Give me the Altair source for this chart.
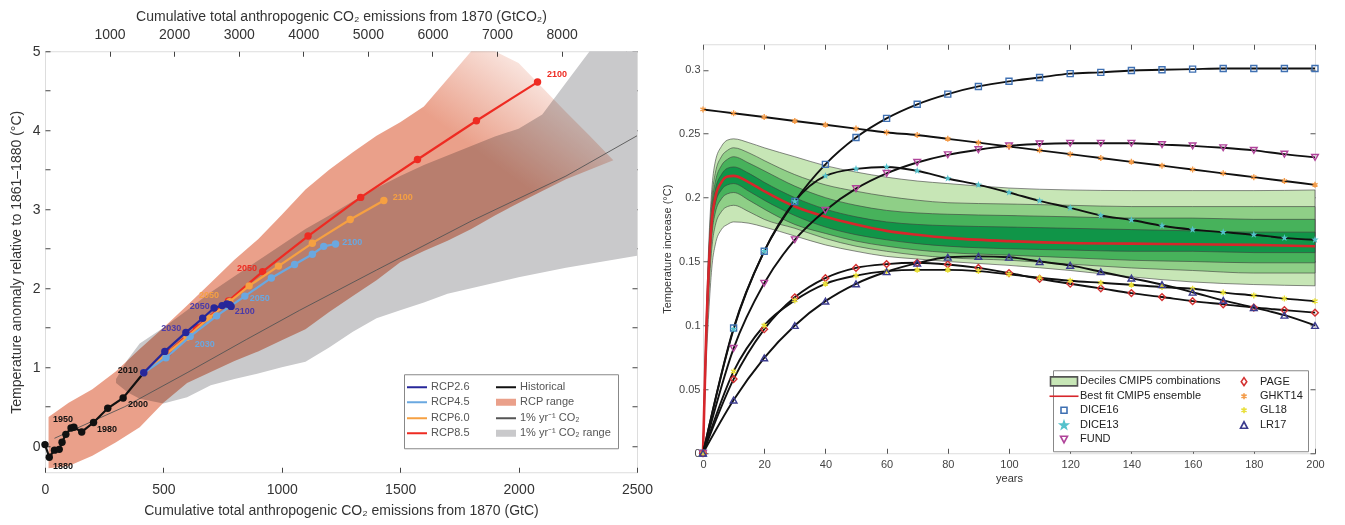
import altair as alt
import pandas as pd

FONT = "Liberation Sans"

# ------------------------------------------------------------------ left panel data
hist_gtc = [0, 18, 40, 60, 72, 88, 110, 122, 155, 205, 265, 330, 417]
hist_t = [0.02, -0.14, -0.05, -0.04, 0.05, 0.15, 0.23, 0.24, 0.18, 0.30, 0.48, 0.61, 0.93]

rcp26_gtc = [417, 506, 595, 666, 714, 748, 768, 780, 786]
rcp26_t = [0.93, 1.20, 1.44, 1.62, 1.75, 1.78, 1.80, 1.79, 1.77]
rcp45_gtc = [417, 511, 613, 725, 844, 956, 1054, 1129, 1177, 1227]
rcp45_t = [0.93, 1.12, 1.39, 1.65, 1.90, 2.13, 2.30, 2.43, 2.53, 2.56]
rcp60_gtc = [417, 505, 600, 690, 780, 862, 986, 1129, 1289, 1431]
rcp60_t = [0.93, 1.15, 1.38, 1.62, 1.83, 2.03, 2.28, 2.57, 2.87, 3.11]
rcp85_gtc = [417, 520, 640, 775, 919, 1111, 1333, 1573, 1822, 2080]
rcp85_t = [0.93, 1.19, 1.50, 1.84, 2.21, 2.66, 3.15, 3.63, 4.12, 4.61]

onepct_gtc = [40, 337, 600, 850, 1075, 1400, 1800, 2200, 2500]
onepct_t = [0.10, 0.50, 0.93, 1.35, 1.72, 2.23, 2.85, 3.42, 3.93]

rcp_range_gtc = [15, 100, 200, 300, 400, 500, 600, 700, 800, 900, 1000, 1100, 1200,
                 1300, 1400, 1500, 1600, 1700, 1800, 1900, 2000, 2100, 2200, 2300, 2400]
rcp_range_lo = [-0.28, -0.25, -0.12, 0.05, 0.24, 0.55, 0.80, 0.94, 1.08, 1.20, 1.34, 1.48, 1.70,
                1.90, 2.10, 2.33, 2.47, 2.60, 2.75, 2.92, 3.08, 3.23, 3.38, 3.50, 3.62]
rcp_range_hi = [0.37, 0.55, 0.72, 0.95, 1.23, 1.50, 1.78, 2.07, 2.36, 2.62, 2.93, 3.25, 3.50,
                3.72, 3.93, 4.10, 4.30, 4.65, 5.10, 5.20, 4.85, 4.54, 4.23, 3.93, 3.62]

co2_range_gtc = [300, 350, 400, 500, 600, 700, 800, 900, 1000, 1100, 1200, 1300, 1400,
                 1500, 1600, 1700, 1800, 1900, 2000, 2100, 2200, 2300, 2400, 2500]
co2_range_lo = [0.80, 0.68, 0.60, 0.54, 0.62, 0.77, 0.85, 0.92, 1.00, 1.07, 1.25, 1.45, 1.62,
                1.72, 1.82, 1.93, 2.00, 2.07, 2.14, 2.20, 2.26, 2.31, 2.36, 2.41]
co2_range_hi = [0.85, 1.10, 1.30, 1.50, 1.72, 1.95, 2.15, 2.35, 2.55, 2.75, 2.92, 3.10, 3.27,
                3.42, 3.56, 3.68, 3.80, 3.92, 4.02, 4.20, 4.60, 5.00, 5.30, 5.50]

ann_x = [76, 76, 262, 393, 350, 533, 654, 844, 675, 907, 1298, 693, 1511, 853, 2162]
ann_y = [-0.25, 0.34, 0.22, 0.53, 0.97, 1.49, 1.78, 1.71, 1.30, 1.88, 2.59, 1.91, 3.15, 2.26, 4.71]
ann_text = ["1880", "1950", "1980", "2000", "2010", "2030", "2050", "2100",
            "2030", "2050", "2100", "2050", "2100", "2050", "2100"]
ann_series = ["Historical"] * 5 + ["RCP2.6"] * 3 + ["RCP4.5"] * 3 + ["RCP6.0"] * 2 + ["RCP8.5"] * 2

top_ticks = [1000, 2000, 3000, 4000, 5000, 6000, 7000, 8000, 9000]
bottom_ticks = [0, 500, 1000, 1500, 2000, 2500]
left_y_ticks = [0, 0.5, 1, 1.5, 2, 2.5, 3, 3.5, 4, 4.5, 5]

C_26, C_45, C_60, C_85 = "#27279a", "#6aa8e0", "#f6a042", "#ee2b22"
C_HIST, C_SALMON, C_GRAY, C_ONE = "#111111", "#eaa08a", "#c9c9cb", "#555555"
series_color = {"Historical": C_HIST, "RCP2.6": "#4b3aa8", "RCP4.5": C_45,
                "RCP6.0": C_60, "RCP8.5": C_85}

ONE_LBL = "1% yr\u207b\u00b9 CO\u2082"
legL_items = ["RCP2.6", "RCP4.5", "RCP6.0", "RCP8.5",
              "Historical", "RCP range", ONE_LBL, ONE_LBL + " range"]
legL_stroke = [C_26, C_45, C_60, C_85, C_HIST, "transparent", C_ONE, "transparent"]
legL_fill = ["transparent"] * 5 + [C_SALMON, "transparent", C_GRAY]
LINE_P = "M-2,0H2"
RECT_P = "M-2,-0.7H2V0.7H-2Z"
legL_shape = [LINE_P, LINE_P, LINE_P, LINE_P, LINE_P, RECT_P, LINE_P, RECT_P]

# ------------------------------------------------------------------ right panel data
T_band = [0, 1, 2, 3, 4, 6, 8, 10, 15, 20, 30, 40, 50, 60, 70, 80, 100, 120, 140, 160, 180, 200]
q90 = [0, 0.100, 0.170, 0.210, 0.228, 0.240, 0.245, 0.246, 0.243, 0.239, 0.232, 0.225, 0.220,
       0.216, 0.213, 0.211, 0.2075, 0.206, 0.2055, 0.2055, 0.2055, 0.206]
q80 = [0, 0.097, 0.163, 0.202, 0.219, 0.232, 0.237, 0.239, 0.235, 0.229, 0.218, 0.210, 0.205,
       0.201, 0.198, 0.196, 0.195, 0.194, 0.193, 0.193, 0.193, 0.193]
q70 = [0, 0.094, 0.158, 0.196, 0.212, 0.225, 0.230, 0.232, 0.227, 0.221, 0.209, 0.200, 0.194,
       0.190, 0.188, 0.187, 0.186, 0.185, 0.184, 0.184, 0.183, 0.183]
q60 = [0, 0.092, 0.154, 0.190, 0.206, 0.218, 0.223, 0.224, 0.219, 0.212, 0.200, 0.191, 0.185,
       0.181, 0.179, 0.178, 0.177, 0.176, 0.175, 0.174, 0.173, 0.173]
best = [0, 0.090, 0.150, 0.185, 0.200, 0.212, 0.2165, 0.217, 0.212, 0.205, 0.193, 0.185, 0.179,
        0.174, 0.171, 0.1685, 0.166, 0.1645, 0.164, 0.1635, 0.163, 0.162]
q40 = [0, 0.087, 0.145, 0.180, 0.195, 0.206, 0.210, 0.211, 0.205, 0.198, 0.186, 0.177, 0.171,
       0.167, 0.164, 0.162, 0.160, 0.159, 0.158, 0.158, 0.157, 0.157]
q30 = [0, 0.083, 0.139, 0.173, 0.188, 0.199, 0.203, 0.204, 0.198, 0.191, 0.179, 0.172, 0.166,
       0.162, 0.159, 0.157, 0.155, 0.153, 0.151, 0.150, 0.149, 0.149]
q20 = [0, 0.077, 0.130, 0.163, 0.178, 0.189, 0.193, 0.194, 0.189, 0.183, 0.176, 0.168, 0.162,
       0.158, 0.155, 0.153, 0.151, 0.148, 0.145, 0.143, 0.141, 0.141]
q10 = [0, 0.068, 0.115, 0.148, 0.163, 0.175, 0.179, 0.181, 0.180, 0.177, 0.170, 0.163, 0.158,
       0.154, 0.152, 0.150, 0.147, 0.143, 0.138, 0.134, 0.132, 0.131]

T_model = [0, 10, 20, 30, 40, 50, 60, 70, 80, 90, 100, 110, 120, 130, 140, 150, 160, 170, 180, 190, 200]
dice16 = [0, 0.098, 0.158, 0.197, 0.226, 0.247, 0.262, 0.273, 0.281, 0.287, 0.291, 0.294, 0.297,
          0.298, 0.2995, 0.300, 0.3005, 0.301, 0.301, 0.301, 0.301]
dice13 = [0, 0.097, 0.158, 0.197, 0.217, 0.2225, 0.224, 0.221, 0.215, 0.210, 0.204, 0.1975, 0.192,
          0.186, 0.1825, 0.178, 0.175, 0.173, 0.171, 0.1685, 0.167]
fund = [0, 0.082, 0.133, 0.167, 0.190, 0.207, 0.219, 0.2275, 0.2335, 0.2375, 0.2405, 0.242, 0.2425,
        0.2425, 0.2425, 0.2415, 0.2405, 0.239, 0.237, 0.234, 0.2315]
page = [0, 0.058, 0.097, 0.122, 0.137, 0.145, 0.148, 0.149, 0.1477, 0.145, 0.141, 0.1365, 0.1326,
        0.129, 0.1253, 0.1222, 0.119, 0.1165, 0.114, 0.112, 0.110]
ghkt14 = [0.269, 0.266, 0.263, 0.260, 0.257, 0.254, 0.251, 0.249, 0.246, 0.243, 0.240, 0.237, 0.234,
          0.231, 0.228, 0.225, 0.222, 0.219, 0.216, 0.213, 0.210]
gl18 = [0, 0.064, 0.100, 0.1196, 0.1326, 0.139, 0.1425, 0.1435, 0.1435, 0.1425, 0.140, 0.1373, 0.135,
        0.1334, 0.1318, 0.130, 0.1287, 0.1257, 0.1235, 0.121, 0.119]
lr17 = [0, 0.0416, 0.0746, 0.100, 0.119, 0.1326, 0.142, 0.1487, 0.1534, 0.154, 0.1534, 0.150, 0.147,
        0.142, 0.137, 0.132, 0.126, 0.1196, 0.114, 0.108, 0.100]

x_ticks_r = [0, 20, 40, 60, 80, 100, 120, 140, 160, 180, 200]
y_ticks_r = [0, 0.05, 0.1, 0.15, 0.2, 0.25, 0.3]

STAR = ("M0,-1L0.235,-0.324L0.951,-0.309L0.38,0.124L0.588,0.809L0,0.4L-0.588,0.809"
        "L-0.38,0.124L-0.951,-0.309L-0.235,-0.324Z")
ASTER = "M0,-1V1M-0.87,-0.5L0.87,0.5M-0.87,0.5L0.87,-0.5"

C_D16, C_D13, C_FUND, C_PAGE = "#3f70b2", "#55c2cc", "#b0449a", "#d33030"
C_GHKT, C_GL18, C_LR17, C_BEST = "#f39c4a", "#e8df3a", "#3b3b8e", "#d7262b"
band_colors = ["#c7e6b6", "#8fcf87", "#47b25b", "#109548"]

models = [
    ("DICE16", dice16, "square", False, C_D16, 36),
    ("DICE13", dice13, STAR, True, C_D13, 60),
    ("FUND", fund, "triangle-down", False, C_FUND, 45),
    ("PAGE", page, "diamond", False, C_PAGE, 45),
    ("GHKT14", ghkt14, ASTER, False, C_GHKT, 36),
    ("GL18", gl18, ASTER, False, C_GL18, 36),
    ("LR17", lr17, "triangle-up", False, C_LR17, 45),
]

AST_L = "M0,-0.6V0.6M-0.52,-0.3L0.52,0.3M-0.52,0.3L0.52,-0.3"
legR_items = ["Deciles CMIP5 combinations", "Best fit CMIP5 ensemble", "DICE16", "DICE13", "FUND",
              "PAGE", "GHKT14", "GL18", "LR17"]
legR_fill = [band_colors[0], "transparent", "transparent", C_D13, "transparent",
             "transparent", C_GHKT, C_GL18, "transparent"]
legR_stroke = ["#555555", C_BEST, C_D16, C_D13, C_FUND, C_PAGE, C_GHKT, C_GL18, C_LR17]
legR_shape = ["M-2.7,-0.9H2.7V0.9H-2.7Z", "M-2.9,0H2.9", "M-0.6,-0.6H0.6V0.6H-0.6Z",
              "M0,-0.8L0.19,-0.26L0.76,-0.25L0.3,0.1L0.47,0.65L0,0.32L-0.47,0.65L-0.3,0.1L-0.76,-0.25L-0.19,-0.26Z",
              "M-0.7,-0.6L0.7,-0.6L0,0.7Z", "M0,-0.8L0.55,0L0,0.8L-0.55,0Z", AST_L, AST_L,
              "M-0.7,0.6L0.7,0.6L0,-0.7Z"]

# ------------------------------------------------------------------ helpers
def legend_layer(field, items, fills, strokes, shapes, legend):
    df = pd.DataFrame({field: items})
    return alt.Chart(df).transform_filter("false").mark_point(
        size=100, strokeWidth=1.6, opacity=1
    ).encode(
        fill=alt.Fill(f"{field}:N", scale=alt.Scale(domain=items, range=fills), legend=legend),
        stroke=alt.Stroke(f"{field}:N", scale=alt.Scale(domain=items, range=strokes), legend=legend),
        shape=alt.Shape(f"{field}:N", scale=alt.Scale(domain=items, range=shapes), legend=legend),
    )

# ------------------------------------------------------------------ left panel
L_W, L_H = 592, 421
xsL = alt.Scale(domain=[0, 2500], nice=False, zero=False)
ysL = alt.Scale(domain=[-0.33, 5], nice=False, zero=False, clamp=True)
axL_common = dict(labelFont=FONT, titleFont=FONT, labelFontSize=14, titleFontSize=14,
                  labelColor="#333", titleColor="#333", titleFontWeight="normal",
                  tickColor="#444", grid=False, domain=False, tickSize=5, offset=-5)
axXL = alt.Axis(values=bottom_ticks, format="d", labelFlush=False, labelPadding=10, titlePadding=7,
                title="Cumulative total anthropogenic CO\u2082 emissions from 1870 (GtC)", **axL_common)
axYL = alt.Axis(values=left_y_ticks, labelExpr="datum.value % 1 === 0 ? format(datum.value, 'd') : ''",
                labelPadding=5, titlePadding=9,
                title="Temperature anomaly relative to 1861\u20131880 (\u00b0C)", **axL_common)

def XL(f):
    return alt.X(f"{f}:Q", scale=xsL, axis=axXL)

def YL(f):
    return alt.Y(f"{f}:Q", scale=ysL, axis=axYL)

df_co2 = pd.DataFrame({"x": co2_range_gtc, "lo": co2_range_lo, "hi": co2_range_hi})
df_rcp = pd.DataFrame({"x": rcp_range_gtc, "lo": rcp_range_lo, "hi": rcp_range_hi})

gray_area = alt.Chart(df_co2).mark_area(color=C_GRAY).encode(
    x=XL("x"), y=YL("lo"), y2="hi:Q")
salmon_grad = alt.LinearGradient(
    gradient="linear",
    stops=[alt.GradientStop(color=C_SALMON, offset=0),
           alt.GradientStop(color=C_SALMON, offset=0.76),
           alt.GradientStop(color="#ffffff", offset=0.96)],
    x1=0, y1=1, x2=1, y2=0)
salmon_area = alt.Chart(df_rcp).mark_area(color=salmon_grad, blend="multiply").encode(
    x=XL("x"), y=YL("lo"), y2="hi:Q")
one_line = alt.Chart(pd.DataFrame({"x": onepct_gtc, "y": onepct_t})).mark_line(
    color=C_ONE, strokeWidth=0.9).encode(x=XL("x"), y=YL("y"))

series_layers = []
for xs, ys, col in [(hist_gtc, hist_t, C_HIST), (rcp85_gtc, rcp85_t, C_85),
                    (rcp60_gtc, rcp60_t, C_60), (rcp45_gtc, rcp45_t, C_45),
                    (rcp26_gtc, rcp26_t, C_26)]:
    d = pd.DataFrame({"x": xs, "y": ys})
    base = alt.Chart(d)
    series_layers.append(base.mark_line(color=col, strokeWidth=2.2).encode(x=XL("x"), y=YL("y")))
    series_layers.append(base.mark_circle(color=col, size=55, opacity=1).encode(x=XL("x"), y=YL("y")))

df_ann = pd.DataFrame({"x": ann_x, "y": ann_y, "label": ann_text,
                       "c": [series_color[s] for s in ann_series]})
ann = alt.Chart(df_ann).mark_text(font=FONT, fontSize=9, fontWeight="bold").encode(
    x=XL("x"), y=YL("y"), text="label:N", color=alt.Color("c:N", scale=None))

legL = alt.Legend(title=None, orient="none", legendX=359, legendY=323, columns=2,
                  symbolSize=100, symbolStrokeWidth=2, labelFont=FONT, labelFontSize=11,
                  labelColor="#555", padding=7, rowPadding=2, columnPadding=22, labelOffset=8,
                  strokeColor="#888", fillColor="white")
legend_left = legend_layer("itemL", legL_items, legL_fill, legL_stroke, legL_shape, legL)

main_left = alt.layer(gray_area, salmon_area, one_line, *series_layers, ann, legend_left)

ticks_left = alt.Chart(pd.DataFrame({"gtco2": [0, 9166.7], "t": [0, 5]})).mark_point(opacity=0).encode(
    x=alt.X("gtco2:Q", scale=alt.Scale(domain=[0, 9166.7], nice=False, zero=False),
            axis=alt.Axis(orient="top", values=top_ticks, labelFlush=False,
                          labelExpr="datum.value < 8500 ? format(datum.value, 'd') : ''",
                          labelPadding=10, titlePadding=4,
                          title="Cumulative total anthropogenic CO\u2082 emissions from 1870 (GtCO\u2082)",
                          **axL_common)),
    y=alt.Y("t:Q", scale=ysL, axis=alt.Axis(orient="right", values=left_y_ticks, labels=False,
                                             title=None, grid=False, domain=False, tickSize=5,
                                             offset=-5, tickColor="#444")),
)

left = alt.layer(main_left, ticks_left).resolve_scale(x="independent").resolve_axis(
    x="independent", y="independent").properties(width=L_W, height=L_H)

# ------------------------------------------------------------------ right panel
R_W, R_H = 612, 409
xsR = alt.Scale(domain=[0, 200], nice=False, zero=False)
ysR = alt.Scale(domain=[0, 0.32], nice=False, zero=False)
axR_common = dict(labelFont=FONT, titleFont=FONT, labelFontSize=11, titleFontSize=11,
                  labelColor="#444", titleColor="#333", titleFontWeight="normal",
                  tickColor="#555", grid=False, domain=False, tickSize=5, offset=-5)
axXR = alt.Axis(values=x_ticks_r, format="d", labelFlush=False, labelPadding=5, titlePadding=3,
                title="years", **axR_common)
axYR = alt.Axis(values=y_ticks_r, format="~g", labelPadding=3, titlePadding=6,
                title="Temperature increase (\u00b0C)", **axR_common)

def XR(f):
    return alt.X(f"{f}:Q", scale=xsR, axis=axXR)

def YR(f):
    return alt.Y(f"{f}:Q", scale=ysR, axis=axYR)

band_layers = []
for (lo, hi), col in zip([(q10, q90), (q20, q80), (q30, q70), (q40, q60)], band_colors):
    d = pd.DataFrame({"t": T_band, "lo": lo, "hi": hi})
    band_layers.append(alt.Chart(d).mark_area(color=col, stroke="#3d3d3d", strokeWidth=0.6,
                                              interpolate="monotone", opacity=1).encode(
        x=XR("t"), y=YR("lo"), y2="hi:Q"))

best_line = alt.Chart(pd.DataFrame({"t": T_band, "v": best})).mark_line(
    color=C_BEST, strokeWidth=2.6, interpolate="monotone").encode(x=XR("t"), y=YR("v"))

model_lines, model_marks = [], []
for name, vals, shape, filled, col, size in models:
    d = pd.DataFrame({"t": T_model, "v": vals})
    model_lines.append(alt.Chart(d).mark_line(color="#111111", strokeWidth=1.9,
                                              interpolate="monotone").encode(x=XR("t"), y=YR("v")))
    model_marks.append(alt.Chart(d).mark_point(shape=shape, filled=filled, color=col, size=size,
                                               strokeWidth=1.4, opacity=1).encode(x=XR("t"), y=YR("v")))

legR = alt.Legend(title=None, orient="none", legendX=350, legendY=326, columns=2,
                  symbolSize=100, symbolStrokeWidth=1.6, labelFont=FONT, labelFontSize=11,
                  labelColor="#222", padding=5, rowPadding=0, columnPadding=16, labelOffset=10,
                  strokeColor="#888", fillColor="white")
legend_right = legend_layer("itemR", legR_items, legR_fill, legR_stroke, legR_shape, legR)

main_right = alt.layer(*band_layers, best_line, *model_lines, *model_marks, legend_right)

ticks_right = alt.Chart(pd.DataFrame({"t": [0, 200], "v": [0, 0.3]})).mark_point(opacity=0).encode(
    x=alt.X("t:Q", scale=xsR, axis=alt.Axis(orient="top", values=x_ticks_r, labels=False, title=None,
                                             grid=False, domain=False, tickSize=5, offset=-5,
                                             tickColor="#555")),
    y=alt.Y("v:Q", scale=ysR, axis=alt.Axis(orient="right", values=y_ticks_r, labels=False, title=None,
                                             grid=False, domain=False, tickSize=5, offset=-5,
                                             tickColor="#555")),
)

# an empty, transparent bottom title only reserves space so that the centred
# right panel sits a little higher than the left one, as in the original
right = alt.layer(main_right, ticks_right).resolve_axis(x="independent", y="independent").properties(
    width=R_W, height=R_H,
    title=alt.TitleParams(".", orient="bottom", color="transparent", fontSize=12, offset=30))

chart = alt.hconcat(left, right, spacing=7, center=True).resolve_scale(
    fill="independent", stroke="independent", shape="independent", color="independent"
).properties(padding=0).configure_view(stroke="#555", strokeWidth=1).configure(background="white")

chart.save("out.html", embed_options={"renderer": "svg", "actions": False})
